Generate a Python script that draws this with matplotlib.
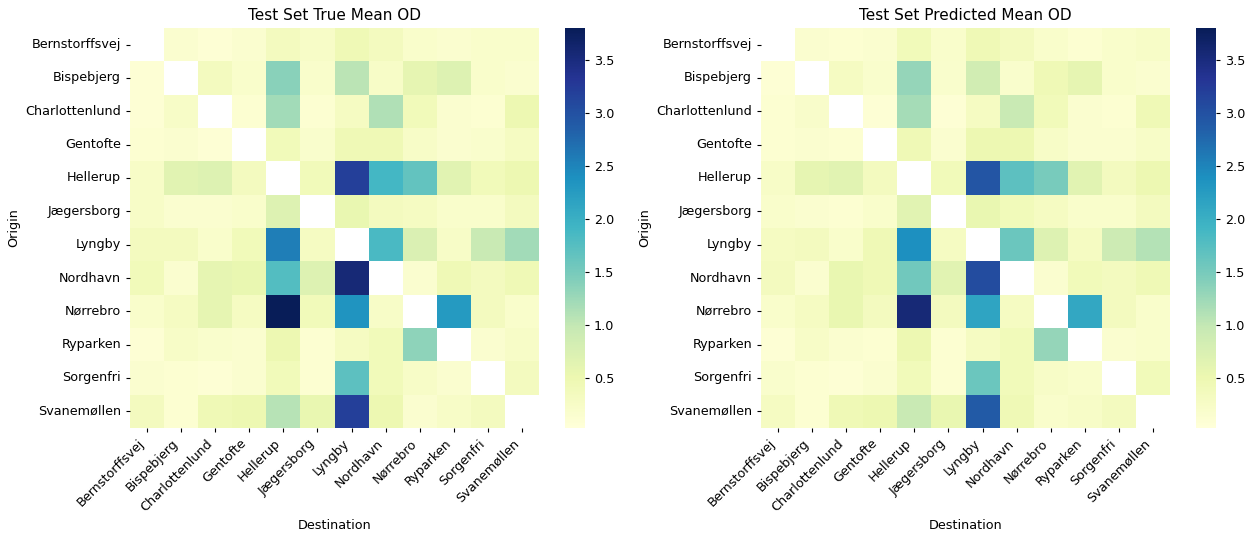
import numpy as np
import matplotlib
matplotlib.use("Agg")
import matplotlib.pyplot as plt
import seaborn as sns

stations = ["Bernstorffsvej", "Bispebjerg", "Charlottenlund", "Gentofte", "Hellerup",
            "Jægersborg", "Lyngby", "Nordhavn", "Nørrebro", "Ryparken", "Sorgenfri",
            "Svanemøllen"]

nan = np.nan
true_od = [
    [nan, 0.15, 0.10, 0.15, 0.35, 0.25, 0.45, 0.35, 0.20, 0.15, 0.20, 0.20],
    [0.10, nan, 0.35, 0.20, 1.38, 0.20, 1.05, 0.25, 0.60, 0.70, 0.20, 0.15],
    [0.10, 0.25, nan, 0.12, 1.22, 0.12, 0.30, 1.12, 0.40, 0.15, 0.12, 0.50],
    [0.12, 0.15, 0.10, nan, 0.40, 0.18, 0.45, 0.45, 0.25, 0.15, 0.18, 0.30],
    [0.25, 0.65, 0.70, 0.35, nan, 0.40, 3.20, 1.90, 1.65, 0.65, 0.40, 0.50],
    [0.25, 0.15, 0.15, 0.20, 0.70, nan, 0.55, 0.35, 0.30, 0.20, 0.20, 0.35],
    [0.35, 0.35, 0.20, 0.40, 2.55, 0.30, nan, 1.85, 0.75, 0.25, 0.95, 1.22],
    [0.40, 0.15, 0.60, 0.55, 1.78, 0.70, 3.55, nan, 0.15, 0.45, 0.35, 0.45],
    [0.20, 0.30, 0.60, 0.30, 3.80, 0.40, 2.35, 0.25, nan, 2.28, 0.35, 0.20],
    [0.10, 0.25, 0.18, 0.15, 0.50, 0.12, 0.30, 0.40, 1.35, nan, 0.15, 0.25],
    [0.15, 0.12, 0.10, 0.15, 0.40, 0.12, 1.70, 0.40, 0.25, 0.15, nan, 0.35],
    [0.35, 0.12, 0.45, 0.50, 1.08, 0.55, 3.20, 0.50, 0.15, 0.25, 0.35, nan],
]

pred_od = [
    [nan, 0.15, 0.12, 0.15, 0.40, 0.20, 0.45, 0.35, 0.20, 0.12, 0.20, 0.25],
    [0.10, nan, 0.30, 0.18, 1.30, 0.18, 0.85, 0.18, 0.45, 0.60, 0.20, 0.15],
    [0.12, 0.22, nan, 0.10, 1.20, 0.10, 0.30, 0.95, 0.40, 0.15, 0.12, 0.45],
    [0.12, 0.15, 0.12, nan, 0.45, 0.15, 0.50, 0.50, 0.25, 0.15, 0.15, 0.25],
    [0.25, 0.60, 0.65, 0.35, nan, 0.40, 2.95, 1.70, 1.50, 0.65, 0.35, 0.50],
    [0.20, 0.15, 0.12, 0.20, 0.65, nan, 0.55, 0.40, 0.30, 0.20, 0.20, 0.35],
    [0.30, 0.35, 0.20, 0.45, 2.40, 0.30, nan, 1.60, 0.70, 0.30, 0.90, 1.10],
    [0.35, 0.15, 0.55, 0.45, 1.55, 0.65, 3.05, nan, 0.15, 0.40, 0.35, 0.45],
    [0.20, 0.30, 0.55, 0.35, 3.55, 0.35, 2.15, 0.30, nan, 2.10, 0.35, 0.20],
    [0.10, 0.25, 0.15, 0.12, 0.50, 0.12, 0.30, 0.40, 1.30, nan, 0.15, 0.20],
    [0.18, 0.12, 0.10, 0.15, 0.40, 0.12, 1.60, 0.40, 0.25, 0.20, nan, 0.40],
    [0.30, 0.12, 0.45, 0.50, 0.95, 0.55, 2.90, 0.45, 0.20, 0.25, 0.35, nan],
]

true_arr = np.array(true_od, dtype=float)
pred_arr = np.array(pred_od, dtype=float)
vmin = 0.03
vmax = 3.8

plt.rcParams["font.size"] = 9.2
plt.rcParams["xtick.major.size"] = 3.2
plt.rcParams["ytick.major.size"] = 3.2
plt.rcParams["xtick.major.pad"] = 3.2
plt.rcParams["ytick.major.pad"] = 3.2

W, H = 1255.0, 535.0


def frac(x0, y0, x1, y1):
    return [x0 / W, 1 - y1 / H, (x1 - x0) / W, (y1 - y0) / H]


fig = plt.figure(figsize=(12.55, 5.35), dpi=100)
ax1 = fig.add_axes(frac(130, 28, 539, 428))
cax1 = fig.add_axes(frac(565, 28, 585, 428))
ax2 = fig.add_axes(frac(761, 28, 1170, 428))
cax2 = fig.add_axes(frac(1196, 28, 1216, 428))

for ax, cax, arr, title in [(ax1, cax1, true_arr, "Test Set True Mean OD"),
                            (ax2, cax2, pred_arr, "Test Set Predicted Mean OD")]:
    sns.heatmap(arr, ax=ax, cbar_ax=cax, cmap="YlGnBu", vmin=vmin, vmax=vmax,
                xticklabels=stations, yticklabels=stations)
    ax.set_title(title, fontsize=11, pad=5.5)
    ax.set_xlabel("Destination")
    ax.set_ylabel("Origin")
    ax.set_xticklabels(stations, rotation=45, ha="right")
    ax.set_yticklabels(stations, rotation=0)

fig.savefig("out.png", dpi=100)
